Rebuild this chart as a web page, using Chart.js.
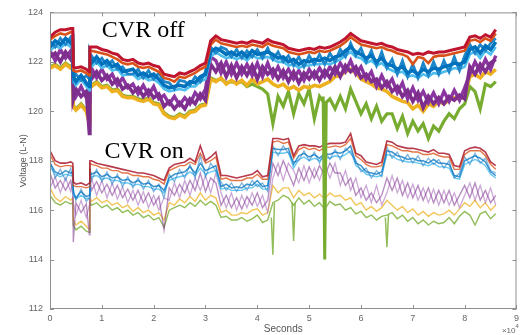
<!DOCTYPE html>
<html>
<head>
<meta charset="utf-8">
<script src="https://cdn.jsdelivr.net/npm/chart.js@4.4.1/dist/chart.umd.min.js"></script>
<style>
  html, body { margin: 0; padding: 0; background: #fff; }
  #wrap { width: 523px; height: 335px; }
</style>
</head>
<body>
<div id="wrap"><canvas id="chart" width="523" height="335"></canvas></div>
<script>
// time axis (seconds), shared by every trace
const seconds = [0, 1000, 2000, 3000, 4000, 4400, 4500, 5000, 6000, 7000,
  7600, 7700, 8000, 9000, 10000, 11000, 12000, 13000, 14000, 15000,
  16000, 17000, 18000, 19000, 20000, 21000, 22000, 23000, 24000, 25000,
  26000, 27000, 28000, 29000, 30000, 31000, 32000, 33000, 34000, 35000,
  36000, 37000, 38000, 39000, 40000, 41000, 42000, 43000, 44000, 45000,
  46000, 47000, 48000, 49000, 50000, 51000, 52000, 53000, 54000, 55000,
  56000, 57000, 58000, 59000, 60000, 61000, 62000, 63000, 64000, 65000,
  66000, 67000, 68000, 69000, 70000, 71000, 72000, 73000, 74000, 75000,
  76000, 77000, 78000, 79000, 80000, 81000, 82000, 83000, 84000, 85000,
  86000];

// CVR off traces (V, line to neutral)
const offDarkRed = [123.0, 123.2, 123.3, 123.3, 123.35, 123.35, 121.8, 121.75, 121.8, 121.7,
  121.6, 122.6, 122.6, 122.6, 122.5, 122.45, 122.35, 122.3, 122.1, 122.05,
  122.1, 121.95, 121.9, 121.95, 121.85, 121.8, 121.5, 121.45, 121.4, 121.55,
  121.5, 121.6, 121.7, 121.85, 121.95, 122.85, 123.05, 122.9, 122.85, 122.8,
  122.75, 122.8, 122.75, 122.85, 122.8, 122.75, 122.9, 122.8, 122.75, 122.7,
  122.55, 122.5, 122.45, 122.5, 122.55, 122.5, 122.6, 122.55, 122.6, 122.7,
  122.8, 122.95, 123.15, 123.0, 122.85, 122.8, 122.75, 122.7, 122.75, 122.65,
  122.6, 122.5, 122.45, 122.4, 122.3, 122.35, 122.3, 122.4, 122.35, 122.4,
  122.4, 122.45, 122.5, 122.55, 122.6, 123.0, 123.05, 122.95, 123.1, 123.0,
  123.3];
const offOrange = [122.9, 123.05, 123.15, 123.1, 123.2, 123.2, 121.65, 121.6, 121.65, 121.55,
  121.45, 122.45, 122.45, 122.4, 122.35, 122.3, 122.2, 122.1, 121.95, 121.9,
  121.95, 121.8, 121.75, 121.8, 121.7, 121.6, 121.35, 121.3, 121.2, 121.4,
  121.35, 121.45, 121.55, 121.7, 121.8, 122.7, 122.9, 122.75, 122.7, 122.65,
  122.6, 122.65, 122.6, 122.7, 122.65, 122.6, 122.75, 122.65, 122.6, 122.55,
  122.4, 122.35, 122.3, 122.35, 122.4, 122.35, 122.45, 122.4, 122.45, 122.55,
  122.65, 122.8, 123.0, 122.85, 122.7, 122.65, 122.6, 122.55, 122.6, 122.5,
  122.45, 122.35, 122.3, 122.2, 121.9, 122.2, 122.15, 121.95, 122.2, 122.25,
  122.25, 122.3, 122.35, 122.4, 122.45, 122.85, 122.9, 122.8, 122.95, 122.85,
  123.15];
const offBlue = [122.6, 122.85, 122.7, 122.95, 122.75, 122.9, 121.4, 121.2, 121.45, 121.15,
  121.0, 122.2, 121.95, 122.2, 121.9, 122.05, 121.8, 121.9, 121.6, 121.65,
  121.7, 121.45, 121.55, 121.4, 121.5, 121.3, 121.05, 120.95, 121.0, 121.05,
  121.0, 121.2, 121.15, 121.4, 121.5, 122.4, 122.55, 122.45, 122.3, 122.4,
  122.25, 122.4, 122.2, 122.45, 122.3, 122.35, 122.4, 122.3, 122.15, 122.2,
  122.0, 122.1, 121.9, 122.05, 122.0, 122.1, 122.05, 122.15, 122.05, 122.2,
  122.25, 122.45, 122.6, 122.4, 122.3, 122.15, 122.25, 122.0, 122.15, 121.9,
  121.85, 121.7, 121.8, 121.55, 121.65, 121.5, 121.7, 121.6, 121.75, 121.7,
  121.8, 121.85, 121.95, 121.9, 122.0, 122.5, 122.6, 122.35, 122.65, 122.5,
  122.8];
const offBlue2 = [122.85, 122.6, 122.95, 122.7, 123.0, 122.75, 121.3, 121.5, 121.25, 121.45,
  121.3, 121.95, 122.25, 121.95, 122.15, 121.85, 122.05, 121.7, 121.8, 121.5,
  121.5, 121.7, 121.35, 121.65, 121.3, 121.55, 121.2, 121.15, 120.9, 121.25,
  121.2, 121.05, 121.4, 121.2, 121.6, 122.6, 122.35, 122.6, 122.5, 122.2,
  122.5, 122.15, 122.45, 122.2, 122.5, 122.15, 122.55, 122.1, 122.4, 122.0,
  122.25, 121.85, 122.2, 121.8, 122.25, 121.9, 122.3, 121.9, 122.35, 122.0,
  122.5, 122.2, 122.75, 122.25, 122.55, 122.0, 122.45, 121.85, 122.4, 121.75,
  122.1, 121.5, 122.05, 121.4, 121.9, 121.35, 121.95, 121.45, 122.0, 121.5,
  122.05, 121.6, 122.2, 121.65, 122.25, 122.7, 122.35, 122.7, 122.45, 122.75,
  122.95];
const offCyan = [122.45, 122.65, 122.55, 122.75, 122.6, 122.7, 121.25, 121.05, 121.3, 121.0,
  120.85, 122.05, 121.8, 122.0, 121.75, 121.85, 121.65, 121.7, 121.45, 121.5,
  121.5, 121.3, 121.4, 121.25, 121.3, 121.15, 120.9, 120.8, 120.85, 120.9,
  120.85, 121.0, 121.0, 121.2, 121.3, 122.2, 122.4, 122.25, 122.15, 122.2,
  122.1, 122.2, 122.05, 122.25, 122.15, 122.15, 122.2, 122.1, 122.0, 122.0,
  121.85, 121.9, 121.75, 121.85, 121.85, 121.9, 121.9, 121.95, 121.9, 122.0,
  122.1, 122.25, 122.4, 122.2, 122.15, 121.95, 122.05, 121.85, 121.95, 121.75,
  121.65, 121.55, 121.6, 121.4, 121.45, 121.35, 121.5, 121.4, 121.55, 121.5,
  121.6, 121.65, 121.75, 121.7, 121.8, 122.3, 122.4, 122.15, 122.45, 122.3,
  122.6];
const offPurple = [122.2, 122.35, 122.0, 122.4, 122.1, 122.3, 120.5, 120.9, 120.6, 120.8,
  119.1, 121.7, 121.3, 121.6, 121.25, 121.45, 121.1, 121.3, 120.9, 121.05,
  120.75, 120.95, 120.6, 120.85, 120.55, 120.7, 120.2, 120.4, 120.1, 120.35,
  120.1, 120.5, 120.3, 120.7, 120.45, 121.9, 121.6, 121.95, 121.4, 121.85,
  121.35, 121.8, 121.45, 121.85, 121.3, 121.8, 121.5, 121.7, 121.3, 121.65,
  121.2, 121.6, 121.15, 121.55, 121.3, 121.6, 121.25, 121.65, 121.35, 121.8,
  121.4, 121.85, 121.6, 121.8, 121.35, 121.5, 121.2, 121.3, 120.95, 121.2,
  120.8, 121.0, 120.6, 120.85, 120.4, 120.75, 120.15, 120.6, 120.3, 120.55,
  120.3, 120.6, 120.45, 120.65, 120.5, 121.8, 121.5, 121.9, 121.6, 121.95,
  122.1];
const offPurple2 = [122.45, 122.05, 122.5, 122.15, 122.45, 122.2, 120.95, 120.6, 121.0, 120.55,
  120.4, 121.4, 121.75, 121.35, 121.7, 121.3, 121.5, 121.05, 121.35, 120.95,
  121.1, 120.7, 121.05, 120.65, 121.0, 120.5, 120.65, 120.3, 120.6, 120.25,
  120.55, 120.3, 120.75, 120.5, 120.9, 122.2, 122.05, 121.55, 122.0, 121.5,
  121.95, 121.5, 121.9, 121.45, 121.95, 121.4, 121.95, 121.4, 121.8, 121.35,
  121.7, 121.3, 121.65, 121.25, 121.7, 121.35, 121.75, 121.4, 121.8, 121.5,
  121.95, 121.6, 122.05, 121.5, 121.8, 121.3, 121.6, 121.0, 121.45, 121.0,
  121.3, 120.75, 121.15, 120.5, 120.95, 120.45, 120.8, 120.35, 120.75, 120.3,
  120.8, 120.4, 120.85, 120.45, 120.95, 121.5, 122.0, 121.6, 122.1, 121.7,
  122.25];
const offYellow = [121.75, 121.85, 121.7, 121.9, 121.75, 121.85, 120.2, 120.05, 120.25, 120.0,
  119.5, 121.2, 121.0, 121.15, 120.95, 121.0, 120.8, 120.85, 120.6, 120.55,
  120.55, 120.45, 120.4, 120.5, 120.3, 120.25, 119.9, 119.75, 119.7, 119.85,
  119.75, 119.95, 120.0, 120.2, 120.25, 121.3, 121.2, 121.35, 121.1, 121.25,
  121.1, 121.25, 121.05, 121.3, 121.1, 121.2, 121.3, 121.1, 121.0, 121.1,
  120.9, 121.0, 120.85, 121.0, 120.95, 121.05, 121.0, 121.1, 121.2, 121.4,
  121.45, 121.6, 121.7, 121.55, 121.3, 121.2, 121.1, 120.95, 120.9, 120.8,
  120.6, 120.5, 120.4, 120.35, 120.1, 120.25, 120.0, 120.3, 120.2, 120.4,
  120.3, 120.45, 120.55, 120.5, 120.6, 121.4, 121.5, 121.35, 121.6, 121.5,
  121.7];
const offGreen = [121.8, 121.9, 121.75, 121.95, 121.8, 121.9, 120.25, 120.1, 120.3, 120.05,
  119.6, 121.25, 121.05, 121.2, 121.0, 121.05, 120.85, 120.9, 120.65, 120.6,
  120.6, 120.5, 120.45, 120.55, 120.35, 120.3, 119.95, 119.8, 119.75, 119.9,
  119.8, 120.0, 120.05, 120.25, 120.3, 121.35, 121.25, 121.3, 121.15, 121.2,
  121.15, 121.2, 121.0, 121.1, 121.0, 120.9, 120.7, 119.5, 120.6, 120.2,
  120.8, 119.9, 120.7, 120.3, 120.9, 119.7, 120.6, 120.3, 120.5, 120.1,
  120.6, 120.1, 120.9, 120.4, 119.9, 120.3, 119.7, 120.2, 119.6, 119.9,
  119.9, 119.3, 119.8, 119.1, 119.6, 119.2, 119.5, 118.9, 119.4, 119.2,
  119.6, 119.9, 119.7, 120.1, 120.3, 121.0, 120.8, 120.1, 121.1, 121.0,
  121.2];
// single deep transient on the CVR off green phase
const offGreenSpikeSec = [52700, 53000, 53300];
const offGreenSpikeV = [120.6, 114.0, 120.4];

// CVR on traces
const onDarkRed = [118.4, 118.0, 117.9, 117.9, 117.95, 117.9, 117.15, 117.05, 117.1, 117.0,
  117.1, 118.0, 118.0, 117.9, 117.85, 117.8, 117.75, 117.7, 117.65, 117.6,
  117.55, 117.5, 117.5, 117.45, 117.4, 117.3, 117.2, 117.7, 117.85, 117.9,
  117.95, 118.1, 117.95, 118.6, 118.0, 118.15, 118.35, 117.4, 117.4, 117.35,
  117.3, 117.35, 117.4, 117.45, 117.6, 117.35, 117.4, 118.9, 118.9, 118.85,
  118.9, 118.2, 118.6, 118.65, 118.6, 118.6, 118.55, 118.65, 118.7, 118.7,
  118.7, 118.75, 119.1, 118.3, 118.2, 117.95, 117.9, 117.85, 117.95, 118.8,
  118.75, 118.6, 118.55, 118.5, 118.5, 118.45, 118.4, 118.35, 118.45, 118.3,
  118.3, 118.25, 117.8, 117.75, 118.4, 118.5, 118.55, 118.5, 118.35, 117.95,
  117.8];
const onOrange = [118.25, 117.85, 117.75, 117.8, 117.8, 117.75, 117.0, 116.95, 116.95, 116.9,
  116.95, 117.9, 117.85, 117.8, 117.7, 117.7, 117.6, 117.6, 117.5, 117.5,
  117.4, 117.4, 117.35, 117.35, 117.25, 117.2, 117.05, 117.6, 117.7, 117.8,
  117.8, 117.95, 117.85, 118.3, 117.9, 118.0, 118.15, 117.25, 117.3, 117.2,
  117.2, 117.2, 117.3, 117.3, 117.45, 117.25, 117.25, 118.75, 118.8, 118.7,
  118.75, 118.1, 118.45, 118.55, 118.45, 118.5, 118.4, 118.55, 118.55, 118.6,
  118.55, 118.65, 118.9, 118.2, 118.05, 117.85, 117.75, 117.75, 117.8, 118.65,
  118.6, 118.5, 118.4, 118.4, 118.35, 118.35, 118.25, 118.25, 118.3, 118.2,
  118.15, 118.15, 117.65, 117.65, 118.25, 118.4, 118.4, 118.4, 118.2, 117.85,
  117.65];
const onBlue = [117.9, 117.55, 117.45, 117.6, 117.5, 117.55, 116.7, 116.5, 116.75, 116.55,
  116.6, 117.6, 117.45, 117.55, 117.35, 117.45, 117.3, 117.35, 117.2, 117.25,
  117.1, 117.2, 117.05, 117.1, 116.95, 117.0, 116.8, 117.3, 117.45, 117.5,
  117.55, 117.75, 117.5, 117.9, 117.6, 117.7, 117.8, 116.95, 117.05, 116.9,
  116.95, 116.9, 117.05, 117.0, 117.2, 116.95, 117.0, 118.5, 118.45, 118.45,
  118.5, 117.85, 118.2, 118.3, 118.15, 118.25, 118.1, 118.3, 118.25, 118.35,
  118.3, 118.4, 118.6, 117.9, 117.8, 117.55, 117.5, 117.45, 117.55, 118.4,
  118.35, 118.2, 118.15, 118.05, 118.1, 118.0, 118.0, 117.9, 118.05, 117.9,
  117.9, 117.85, 117.4, 117.35, 118.0, 118.1, 118.2, 118.1, 117.95, 117.55,
  117.4];
const onBlue2 = [118.0, 117.3, 117.65, 117.2, 117.7, 117.25, 116.85, 116.4, 116.85, 116.35,
  116.5, 117.7, 117.2, 117.65, 117.15, 117.55, 117.05, 117.45, 116.95, 117.35,
  116.9, 117.3, 116.85, 117.2, 116.75, 117.05, 116.5, 117.45, 117.15, 117.65,
  117.3, 117.85, 117.3, 118.2, 117.35, 117.9, 117.6, 117.15, 116.8, 117.1,
  116.75, 117.1, 116.8, 117.2, 116.95, 117.1, 116.75, 118.6, 118.2, 118.6,
  118.3, 117.95, 118.0, 118.4, 118.0, 118.35, 117.9, 118.4, 118.05, 118.45,
  118.05, 118.5, 118.3, 118.0, 117.55, 117.7, 117.3, 117.6, 117.35, 118.55,
  118.1, 118.35, 117.95, 118.25, 117.9, 118.2, 117.8, 118.1, 117.85, 118.05,
  117.7, 118.0, 117.3, 117.5, 118.15, 117.85, 118.3, 117.9, 118.1, 117.6,
  117.5];
const onCyan = [117.75, 117.45, 117.35, 117.45, 117.4, 117.4, 116.6, 116.45, 116.6, 116.45,
  116.5, 117.45, 117.35, 117.4, 117.25, 117.3, 117.2, 117.2, 117.1, 117.1,
  117.0, 117.05, 116.95, 116.95, 116.85, 116.85, 116.7, 117.2, 117.3, 117.35,
  117.4, 117.55, 117.4, 117.7, 117.45, 117.55, 117.6, 116.85, 116.9, 116.8,
  116.8, 116.8, 116.9, 116.9, 117.05, 116.85, 116.85, 118.35, 118.3, 118.3,
  118.35, 117.7, 118.05, 118.15, 118.0, 118.1, 118.0, 118.15, 118.1, 118.2,
  118.15, 118.25, 118.4, 117.8, 117.65, 117.45, 117.4, 117.35, 117.4, 118.25,
  118.2, 118.05, 118.0, 117.95, 117.95, 117.9, 117.85, 117.8, 117.9, 117.75,
  117.75, 117.7, 117.3, 117.25, 117.85, 117.95, 118.05, 117.95, 117.8, 117.45,
  117.3];
const onPurple = [117.5, 116.9, 117.2, 116.8, 117.2, 116.7, 114.7, 116.3, 115.9, 116.25,
  115.0, 117.2, 116.8, 117.15, 116.7, 117.05, 116.6, 117.0, 116.5, 116.85,
  116.4, 116.8, 116.3, 116.7, 116.2, 116.55, 115.2, 116.9, 116.6, 117.05,
  116.7, 117.2, 116.8, 117.5, 116.75, 117.3, 117.1, 116.2, 116.6, 116.1,
  116.5, 116.05, 116.55, 116.2, 116.7, 116.1, 116.4, 117.9, 117.4, 118.0,
  117.5, 117.0, 117.7, 117.2, 117.75, 117.3, 117.8, 117.4, 117.9, 117.5,
  117.5, 117.0, 117.3, 116.6, 116.9, 116.4, 116.7, 116.3, 116.6, 117.3,
  116.8, 117.3, 116.6, 117.1, 116.5, 117.0, 116.4, 116.9, 116.3, 116.8,
  116.3, 116.8, 116.2, 116.6, 117.0, 116.5, 117.1, 116.4, 116.8, 116.3,
  116.6];
const onPurple2 = [116.9, 117.35, 116.7, 117.3, 116.75, 117.25, 116.3, 115.8, 116.4, 115.7,
  116.2, 116.7, 117.3, 116.6, 117.2, 116.5, 117.1, 116.45, 116.95, 116.3,
  116.8, 116.2, 116.75, 116.1, 116.6, 116.0, 116.5, 116.4, 117.1, 116.5,
  117.2, 116.6, 117.3, 116.8, 117.4, 116.7, 117.5, 116.7, 116.1, 116.7,
  116.0, 116.6, 116.1, 116.7, 116.15, 116.6, 115.9, 117.3, 117.9, 117.2,
  117.9, 117.6, 117.1, 117.8, 117.1, 117.7, 117.2, 117.85, 117.3, 117.9,
  117.0, 117.6, 116.8, 117.3, 116.5, 117.0, 116.3, 117.0, 116.2, 116.7,
  117.4, 116.7, 117.2, 116.5, 117.05, 116.4, 116.9, 116.3, 116.85, 116.2,
  116.8, 116.2, 116.7, 116.1, 116.6, 117.1, 116.4, 117.0, 116.3, 116.9,
  116.2];
const onYellow = [116.9, 116.5, 116.35, 116.55, 116.4, 116.5, 115.6, 115.4, 115.55, 115.35,
  115.2, 116.55, 116.35, 116.5, 116.3, 116.4, 116.2, 116.3, 116.1, 116.2,
  115.95, 116.1, 115.9, 116.0, 115.8, 115.9, 115.6, 116.3, 116.2, 116.45,
  116.3, 116.55, 116.35, 116.7, 116.4, 116.6, 116.5, 115.9, 116.0, 115.8,
  115.8, 115.9, 115.85, 116.0, 116.05, 115.8, 115.9, 117.0, 116.7, 116.9,
  116.9, 116.5, 116.8, 116.6, 116.7, 116.5, 116.65, 116.45, 116.7, 116.55,
  116.6, 116.4, 116.5, 116.2, 116.3, 116.0, 116.15, 115.95, 116.1, 116.4,
  116.2, 116.0, 116.15, 115.9, 116.05, 115.8, 115.95, 115.75, 115.9, 115.8,
  115.85, 116.0, 115.8, 116.05, 116.3, 116.15, 116.4, 116.1, 116.3, 116.0,
  116.2];
const onGreen = [116.6, 116.3, 116.2, 116.35, 116.25, 116.3, 115.4, 115.2, 115.35, 115.15,
  115.1, 116.35, 116.2, 116.3, 116.1, 116.2, 116.0, 116.1, 115.9, 116.0,
  115.8, 115.9, 115.7, 115.8, 115.6, 115.7, 115.3, 116.0, 116.1, 116.2,
  116.1, 116.3, 116.15, 116.4, 116.2, 116.35, 116.2, 115.7, 115.75, 115.6,
  115.6, 115.7, 115.55, 115.65, 115.8, 115.5, 115.6, 116.3, 116.4, 116.6,
  116.5, 116.2, 116.5, 116.25, 116.4, 116.15, 116.3, 116.05, 116.35, 116.2,
  116.25, 116.0, 116.1, 115.85, 115.95, 115.7, 115.8, 115.6, 115.75, 115.8,
  115.9, 115.65, 115.8, 115.55, 115.7, 115.45, 115.6, 115.4, 115.55, 115.45,
  115.5, 115.7, 115.45, 115.75, 115.95, 115.8, 115.4, 115.85, 115.95, 115.65,
  115.85];
// short transients on the CVR on green phase (null breaks the line)
const onGreenSpikeSec = [42700, 43000, 43300, 43400, 46700, 47000, 47300, 47400, 64700, 65000, 65300];
const onGreenSpikeV = [115.7, 114.2, 116.3, null, 116.3, 114.75, 116.3, null, 115.7, 114.5, 115.8];

const yTicks = [112, 114, 116, 118, 120, 122, 124];

const toPoints = (xs, vals) => xs.map((s, i) => ({ x: s, y: vals[i] }));

function trace(vals, color, width, xs = seconds) {
    return {
        data: toPoints(xs, vals),
        borderColor: color,
        borderWidth: width,
        pointRadius: 0,
        tension: 0,
        fill: false,
        spanGaps: false
    };
}

// first entry is painted last (on top)
const datasets = [
    trace(offDarkRed, '#C0152F', 3),
    trace(offOrange, '#D95319', 2.6),
    trace(offBlue, '#0072BD', 3.5),
    trace(offBlue2, '#1F86C9', 2.8),
    trace(offCyan, '#4DBEEE', 2.6),
    trace(offPurple, '#7E2F8E', 3.6),
    trace(offPurple2, '#8A35A0', 3.4),
    trace(offYellow, '#EDB120', 3.6),
    trace(offGreen, '#77AC30', 3.2),
    trace(offGreenSpikeV, '#77AC30', 3, offGreenSpikeSec),
    trace(onDarkRed, 'rgba(170,25,45,0.85)', 1.6),
    trace(onOrange, 'rgba(217,83,25,0.8)', 1.4),
    trace(onBlue, 'rgba(0,114,189,0.75)', 1.5),
    trace(onBlue2, 'rgba(40,130,200,0.6)', 1.3),
    trace(onCyan, 'rgba(77,190,238,0.85)', 1.4),
    trace(onPurple, 'rgba(126,47,142,0.55)', 1.4),
    trace(onPurple2, 'rgba(170,110,190,0.6)', 1.3),
    trace(onYellow, 'rgba(237,177,32,0.75)', 1.4),
    trace(onGreen, 'rgba(119,172,48,0.8)', 1.4),
    trace(onGreenSpikeV, 'rgba(119,172,48,0.8)', 1.5, onGreenSpikeSec)
];

// MATLAB-like box, inward ticks, annotations
const boxPlugin = {
    id: 'matlabBox',
    afterDatasetsDraw(chart) {
        const { ctx, chartArea: a, scales: { x, y } } = chart;
        ctx.save();
        ctx.strokeStyle = '#8f8f8f';
        ctx.lineWidth = 1;
        ctx.strokeRect(a.left + 0.5, a.top + 0.5, a.right - a.left - 1, a.bottom - a.top - 1);
        ctx.beginPath();
        x.ticks.forEach(t => {
            const px = Math.round(x.getPixelForValue(t.value)) + 0.5;
            ctx.moveTo(px, a.bottom); ctx.lineTo(px, a.bottom - 4);
            ctx.moveTo(px, a.top); ctx.lineTo(px, a.top + 4);
        });
        y.ticks.forEach(t => {
            const py = Math.round(y.getPixelForValue(t.value)) + 0.5;
            ctx.moveTo(a.left, py); ctx.lineTo(a.left + 4, py);
            ctx.moveTo(a.right, py); ctx.lineTo(a.right - 4, py);
        });
        ctx.stroke();

        ctx.fillStyle = '#000';
        ctx.font = '24px "Liberation Serif"';
        ctx.textBaseline = 'alphabetic';
        ctx.fillText('CVR off', x.getPixelForValue(10000), y.getPixelForValue(123.0));
        ctx.fillText('CVR on', x.getPixelForValue(10500), y.getPixelForValue(118.1));

        ctx.fillStyle = '#666';
        ctx.font = '8px "Liberation Sans"';
        ctx.textAlign = 'right';
        ctx.fillText('\u00d710', a.right - 1, 333);
        ctx.font = '6px "Liberation Sans"';
        ctx.textAlign = 'left';
        ctx.fillText('4', a.right - 1, 328);
        ctx.restore();
    }
};

new Chart(document.getElementById('chart'), {
    type: 'line',
    data: { datasets },
    options: {
        responsive: false,
        animation: false,
        events: [],
        layout: { padding: { left: 0, right: 4, top: 12, bottom: 0 } },
        plugins: { legend: { display: false }, tooltip: { enabled: false } },
        scales: {
            x: {
                type: 'linear',
                min: 0,
                max: 90000,
                afterFit: s => { s.height = 26; },
                grid: { display: false, drawTicks: false },
                border: { display: false },
                ticks: {
                    stepSize: 10000,
                    padding: 4,
                    maxRotation: 0,
                    color: '#666',
                    font: { family: 'Liberation Sans', size: 9 },
                    callback: v => v / 10000
                },
                title: {
                    display: true,
                    text: 'Seconds',
                    color: '#555',
                    font: { family: 'Liberation Sans', size: 10 },
                    padding: { top: 0, bottom: 0 }
                }
            },
            y: {
                min: 112,
                max: 124,
                afterFit: s => { s.width = 50; },
                afterBuildTicks: s => { s.ticks = yTicks.map(v => ({ value: v })); },
                grid: { display: false, drawTicks: false },
                border: { display: false },
                ticks: {
                    padding: 7,
                    color: '#666',
                    font: { family: 'Liberation Sans', size: 9 }
                },
                title: {
                    display: true,
                    text: 'Voltage (L-N)',
                    color: '#555',
                    font: { family: 'Liberation Sans', size: 9 },
                    padding: { top: 18, bottom: 0 }
                }
            }
        }
    },
    plugins: [boxPlugin]
});
</script>
</body>
</html>
